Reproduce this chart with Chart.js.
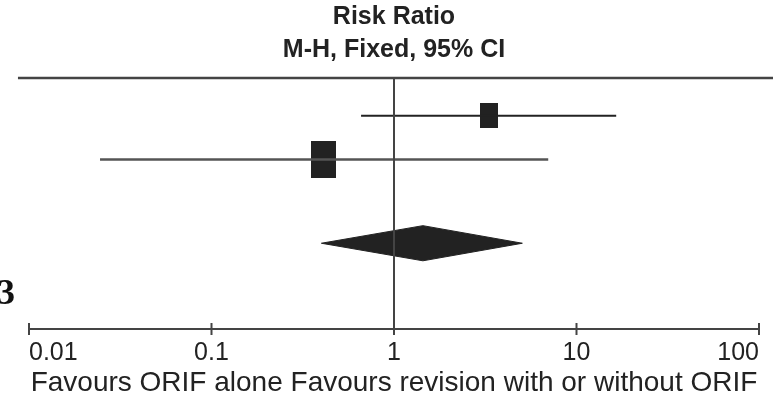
<!DOCTYPE html>
<html>
<head>
<meta charset="utf-8">
<script src="https://cdn.jsdelivr.net/npm/chart.js@4"></script>
<style>
  body { margin: 0; background: #fff; }
  #wrap { position: relative; width: 773px; height: 397px; }
  #label3 {
    position: absolute; left: -3px; top: 274px;
    font: bold 36px "Liberation Serif", "DejaVu Serif", serif;
    line-height: 1; color: #111;
  }
</style>
</head>
<body>
<div id="wrap">
  <canvas id="forest"></canvas>
  <div id="label3">3</div>
</div>
<script>
// risk ratios (M-H, fixed)
const studyRows = [0.9, 1.95];
const studyEst = [3.3, 0.41];
const studyLow = [0.66, 0.0245];
const studyHigh = [16.5, 7.0];

const pooledRow = 3.95;
const pooledEst = 1.44;
const pooledLow = 0.40;
const pooledHigh = 5.05;

const tickValues = [0.01, 0.1, 1, 10, 100];
const axisTitle = 'Favours ORIF alone Favours revision with or without ORIF';
const chartTitle = ['Risk Ratio', 'M-H, Fixed, 95% CI'];

const ink = '#222';
const sans = '"Liberation Sans", Arial, sans-serif';

function makeBox(w, h) {
    const c = document.createElement('canvas');
    c.width = w;
    c.height = h;
    const g = c.getContext('2d');
    g.fillStyle = ink;
    g.fillRect(0, 0, w, h);
    return c;
}

const boxes = [makeBox(18, 25), makeBox(25, 37)];
const halfDiamond = 0.42;

const lineStyle = (color, width) => ({
    borderColor: color,
    borderWidth: width,
    pointRadius: 0,
    fill: false,
    tension: 0
});

const datasets = [];

// top rule across the plot
datasets.push({
    data: [{x: 0.0087, y: 0}, {x: 140, y: 0}],
    clip: false,
    ...lineStyle('#444', 2.5)
});

// line of no effect
datasets.push({
    data: [{x: 1, y: 0}, {x: 1, y: 6}],
    ...lineStyle('#444', 2)
});

// confidence intervals
studyRows.forEach((row, i) => {
    datasets.push({
        data: [{x: studyLow[i], y: row}, {x: studyHigh[i], y: row}],
        ...lineStyle(i == 0 ? '#222' : '#555', i == 0 ? 2 : 2.5)
    });
});

// study estimates
datasets.push({
    data: studyRows.map((row, i) => ({x: studyEst[i], y: row})),
    showLine: false,
    pointStyle: boxes,
    pointRadius: 10,
    pointHoverRadius: 10
});

// pooled diamond: upper edge then lower edge filled to it
datasets.push({
    data: [
        {x: pooledLow, y: pooledRow},
        {x: pooledEst, y: pooledRow - halfDiamond},
        {x: pooledHigh, y: pooledRow}
    ],
    borderColor: ink,
    borderWidth: 1,
    pointRadius: 0,
    tension: 0,
    fill: false
});
datasets.push({
    data: [
        {x: pooledLow, y: pooledRow},
        {x: pooledEst, y: pooledRow + halfDiamond},
        {x: pooledHigh, y: pooledRow}
    ],
    borderColor: ink,
    borderWidth: 1,
    backgroundColor: ink,
    pointRadius: 0,
    tension: 0,
    fill: '-1'
});

// tick marks crossing the axis
datasets.push({
    data: tickValues.map(v => ({x: v, y: 6})),
    showLine: false,
    clip: false,
    pointStyle: 'line',
    rotation: 90,
    pointRadius: 6,
    borderWidth: 2,
    borderColor: '#444'
});

const chart = new Chart(document.getElementById('forest'), {
    type: 'line',
    data: { datasets: datasets },
    options: {
        responsive: true,
        maintainAspectRatio: false,
        animation: false,
        events: [],
        layout: {
            padding: { left: 29, right: 14, top: 0, bottom: 0 }
        },
        plugins: {
            legend: { display: false },
            tooltip: { enabled: false },
            title: {
                display: true,
                text: chartTitle,
                fullSize: false,
                color: '#222',
                font: { family: sans, size: 25, weight: 'bold', lineHeight: 1.32 },
                padding: { top: 1, bottom: 11 }
            }
        },
        scales: {
            x: {
                type: 'logarithmic',
                min: 0.01,
                max: 100,
                afterBuildTicks: scale => {
                    scale.ticks = tickValues.map(v => ({ value: v }));
                },
                grid: { display: false },
                border: { display: true, color: '#444', width: 2 },
                ticks: {
                    autoSkip: false,
                    maxRotation: 0,
                    align: 'inner',
                    padding: 6,
                    color: '#222',
                    font: { family: sans, size: 25, lineHeight: 0.8 },
                    callback: value => String(value)
                },
                title: {
                    display: true,
                    text: axisTitle,
                    color: '#222',
                    font: { family: sans, size: 28, lineHeight: 1.0 },
                    padding: { top: 0, bottom: 0 }
                }
            },
            y: {
                type: 'linear',
                display: false,
                reverse: true,
                min: 0,
                max: 6
            }
        }
    }
});
</script>
</body>
</html>
